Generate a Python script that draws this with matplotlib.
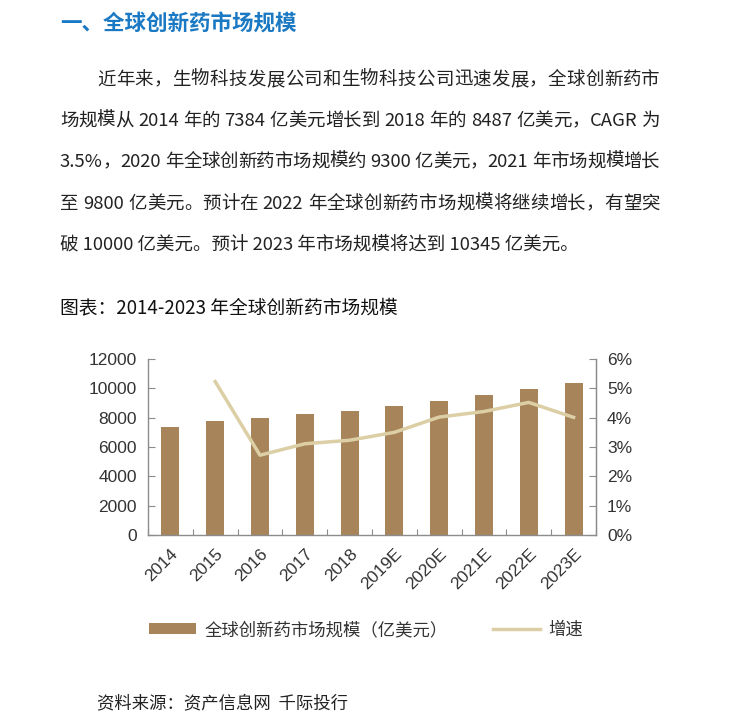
import matplotlib
matplotlib.use("Agg")
import matplotlib.pyplot as plt
from matplotlib.lines import Line2D
from matplotlib.patches import Patch

# ---- data ----
years = ["2014", "2015", "2016", "2017", "2018", "2019E", "2020E", "2021E", "2022E", "2023E"]
market_size = [7384, 7766, 7970, 8242, 8487, 8808, 9125, 9532, 9940, 10345]
growth_pct = [None, 5.23, 2.72, 3.11, 3.23, 3.50, 4.02, 4.21, 4.52, 4.01]
left_ticks = [0, 2000, 4000, 6000, 8000, 10000, 12000]
right_ticks = [0, 1, 2, 3, 4, 5, 6]

heading = "一、全球创新药市场规模"
paragraph = [
    "近年来，生物科技发展公司和生物科技公司迅速发展，全球创新药市",
    "场规模从 2014 年的 7384 亿美元增长到 2018 年的 8487 亿美元，CAGR 为",
    "3.5%，2020 年全球创新药市场规模约 9300 亿美元，2021 年市场规模增长",
    "至 9800 亿美元。预计在 2022 年全球创新药市场规模将继续增长，有望突",
    "破 10000 亿美元。预计 2023 年市场规模将达到 10345 亿美元。",
]
chart_title = "图表：2014-2023 年全球创新药市场规模"
bar_label = "全球创新药市场规模（亿美元）"
line_label = "增速"
source = "资料来源：资产信息网  千际投行"

W, H = 748, 721
CJK = ["Noto Sans CJK SC", "DejaVu Sans"]
BAR_C = "#a8845b"
LINE_C = "#dccfa6"
AX_C = "#8c8c8c"
TXT_C = "#333333"

fig = plt.figure(figsize=(W / 100, H / 100), dpi=100)
fig.patch.set_facecolor("white")
renderer = fig.canvas.get_renderer()

def px(x, y):
    return x / W, 1 - y / H

# heading
fig.text(*px(60, 24), heading, family=CJK, fontsize=15.5, fontweight="bold",
         color="#1b79c3", ha="left", va="center")

# paragraph, justified like the document (last line left aligned)
def tokens(s):
    """split into units; return list of (token, preceded_by_space)"""
    out = []
    cur, cur_sp, sp = "", False, False
    for ch in s:
        if ch == " ":
            if cur:
                out.append((cur, cur_sp))
                cur = ""
            sp = True
        elif ord(ch) < 128:
            if not cur:
                cur_sp = sp
                sp = False
            cur += ch
        else:
            if cur:
                out.append((cur, cur_sp))
                cur = ""
            out.append((ch, sp))
            sp = False
    if cur:
        out.append((cur, cur_sp))
    return out

line_y = [80, 121, 162, 204, 246]
PFS = 13.3
for i, (ln, yy) in enumerate(zip(paragraph, line_y)):
    x0 = 97 if i == 0 else 60
    x1 = 660
    if i == len(paragraph) - 1:
        fig.text(*px(x0, yy), ln, family=CJK, fontsize=PFS, color="#222222",
                 ha="left", va="center")
        continue
    toks = tokens(ln)
    arts = [fig.text(0, 0, tk, family=CJK, fontsize=PFS, color="#222222",
                     ha="left", va="center") for tk, _ in toks]
    widths = [a.get_window_extent(renderer).width for a in arts]
    gaps = [4.5 if toks[k + 1][1] else 0.0 for k in range(len(toks) - 1)]
    extra = (x1 - x0 - sum(widths) - sum(gaps)) / max(1, len(gaps))
    xc = x0
    for k, a in enumerate(arts):
        a.set_position(px(xc, yy))
        xc += widths[k]
        if k < len(gaps):
            xc += gaps[k] + extra

# chart title
fig.text(*px(60, 308), chart_title, family=CJK, fontsize=13.5, fontweight="medium",
         color="#111111", ha="left", va="center")

# source
fig.text(*px(97, 703), source, family=CJK, fontsize=12.5, color="#222222",
         ha="left", va="center")

# ---- chart ----
l, r = 148 / W, 596 / W
b, t = 1 - 535 / H, 1 - 359 / H
ax = fig.add_axes([l, b, r - l, t - b])
x = list(range(len(years)))
ax.bar(x, market_size, width=0.4, color=BAR_C, zorder=2)
ax.set_xlim(-0.5, len(years) - 0.5)
ax.set_ylim(0, 12000)
ax.set_yticks(left_ticks)
ax.set_yticklabels([str(v) for v in left_ticks], family=["Liberation Sans"],
                   fontsize=12.5, color=TXT_C)
ax.set_xticks([i - 0.5 for i in range(len(years) + 1)], minor=False)
ax.set_xticklabels([""] * (len(years) + 1))
ax.set_xticks(x, minor=True)
ax.set_xticklabels(years, minor=True, rotation=45, ha="right",
                   rotation_mode="anchor", family=["Liberation Sans"],
                   fontsize=12.5, color=TXT_C)
ax.tick_params(axis="x", which="major", direction="in", length=4, color=AX_C)
ax.tick_params(axis="x", which="minor", length=0, pad=8)
ax.tick_params(axis="y", direction="in", length=5, color=AX_C, pad=8)
ax.spines["top"].set_visible(False)
for s in ["left", "right", "bottom"]:
    ax.spines[s].set_color(AX_C)
    ax.spines[s].set_linewidth(1.0)

ax2 = ax.twinx()
gx = [i for i, g in zip(x, growth_pct) if g is not None]
gy = [g for g in growth_pct if g is not None]
ax2.plot(gx, gy, color=LINE_C, linewidth=2.5, zorder=3)
ax2.set_ylim(0, 6)
ax2.set_yticks(right_ticks)
ax2.set_yticklabels([f"{v}%" for v in right_ticks], family=["Liberation Sans"],
                    fontsize=12.5, color=TXT_C)
ax2.tick_params(axis="y", direction="in", length=5, color=AX_C, pad=8)
for s in ["top", "left", "bottom"]:
    ax2.spines[s].set_visible(False)
ax2.spines["right"].set_color(AX_C)

handles = [Patch(facecolor=BAR_C, edgecolor="none", label=bar_label),
           Line2D([0], [0], color=LINE_C, linewidth=2.5, label=line_label)]
leg = fig.legend(handles=handles, loc="center", bbox_to_anchor=px(366, 630),
                 ncol=2, frameon=False, handlelength=2.7, handleheight=0.6,
                 columnspacing=2.6, handletextpad=0.5,
                 prop={"family": CJK, "size": 12.5})
for txt in leg.get_texts():
    txt.set_color(TXT_C)

fig.savefig("out.png", dpi=100, facecolor="white")
